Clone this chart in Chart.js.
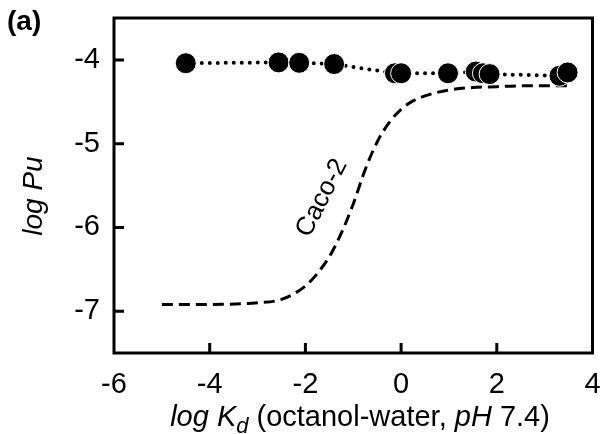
<!DOCTYPE html>
<html>
<head>
<meta charset="utf-8">
<script src="https://cdn.jsdelivr.net/npm/chart.js@4"></script>
<style>
    html, body { margin: 0; padding: 0; background: #fff; }
    canvas { display: block; }
</style>
</head>
<body>
<canvas id="chart" width="604" height="434"></canvas>
<script>
// measured compounds: log Kd vs log Pu
const kdValues = [-4.5, -2.56, -2.13, -1.40, -0.13, 0.0, 0.98, 1.56, 1.71, 1.85, 3.31, 3.48];
const puValues = [-4.04, -4.03, -4.035, -4.05, -4.16, -4.16, -4.16, -4.14, -4.16, -4.17, -4.19, -4.15];

// Caco-2 curve
const cacoKd = [-5, -4, -3, -2.5, -2, -1.75, -1.5, -1.25, -1, -0.75, -0.5, -0.25, 0, 0.25, 0.5, 1, 1.5, 2, 2.5, 3, 3.5];
const cacoPu = [-6.92, -6.92, -6.90, -6.86, -6.70, -6.55, -6.35, -6.07, -5.72, -5.31, -4.98, -4.75, -4.59, -4.49, -4.43, -4.36, -4.33, -4.32, -4.31, -4.31, -4.31];

const xTicks = [-6, -4, -2, 0, 2, 4];
const yTicks = [-7, -6, -5, -4];

const FONT = "'Liberation Sans', Arial, sans-serif";
const SIZE = 29;

const framePlugin = {
    id: 'frame',
    afterDraw(chart) {
        const ctx = chart.ctx;
        const a = chart.chartArea;
        const xs = chart.scales.x, ys = chart.scales.y;
        ctx.save();
        ctx.strokeStyle = '#000';
        ctx.lineWidth = 3;
        ctx.strokeRect(a.left, a.top, a.right - a.left, a.bottom - a.top);
        // inward tick marks
        ctx.beginPath();
        yTicks.forEach(v => {
            const y = ys.getPixelForValue(v);
            ctx.moveTo(a.left, y);
            ctx.lineTo(a.left + 10, y);
        });
        xTicks.slice(1, -1).forEach(v => {
            const x = xs.getPixelForValue(v);
            ctx.moveTo(x, a.bottom);
            ctx.lineTo(x, a.bottom - 10);
        });
        ctx.stroke();

        ctx.fillStyle = '#000';
        // panel letter
        ctx.font = 'bold 28px ' + FONT;
        ctx.textAlign = 'left';
        ctx.textBaseline = 'alphabetic';
        ctx.fillText('(a)', 7, 30);

        // y title
        ctx.save();
        ctx.translate(42, 196);
        ctx.rotate(-Math.PI / 2);
        ctx.font = 'italic 28px ' + FONT;
        ctx.textAlign = 'center';
        ctx.fillText('log Pu', 0, 0);
        ctx.restore();

        // x title with mixed styles
        const parts = [
            { t: 'log K', f: 'italic ' + SIZE + 'px ', dy: 0 },
            { t: 'd', f: 'italic 22px ', dy: 7 },
            { t: ' (octanol-water, ', f: SIZE + 'px ', dy: 0 },
            { t: 'pH', f: 'italic ' + SIZE + 'px ', dy: 0 },
            { t: ' 7.4)', f: SIZE + 'px ', dy: 0 }
        ];
        let w = 0;
        parts.forEach(p => { ctx.font = p.f + FONT; w += ctx.measureText(p.t).width; });
        let x = 360 - w / 2;
        parts.forEach(p => {
            ctx.font = p.f + FONT;
            ctx.fillText(p.t, x, 426 + p.dy);
            x += ctx.measureText(p.t).width;
        });

        // curve label
        ctx.save();
        ctx.translate(322, 198);
        ctx.rotate(-63 * Math.PI / 180);
        ctx.font = '26px ' + FONT;
        ctx.textAlign = 'center';
        ctx.textBaseline = 'middle';
        ctx.fillText('Caco-2', 0, 0);
        ctx.restore();
        ctx.restore();
    }
};

const ctx = document.getElementById('chart').getContext('2d');
new Chart(ctx, {
    type: 'scatter',
    data: {
        datasets: [
            {
                label: 'Caco-2',
                data: cacoKd.map((x, i) => ({ x, y: cacoPu[i] })),
                showLine: true,
                borderColor: '#000',
                borderWidth: 3,
                borderDash: [11, 6],
                pointRadius: 0,
                cubicInterpolationMode: 'monotone',
                order: 2
            },
            {
                label: 'measured',
                data: kdValues.map((x, i) => ({ x, y: puValues[i] })),
                showLine: true,
                borderColor: '#000',
                borderWidth: 4,
                borderDash: [0, 8],
                borderCapStyle: 'round',
                backgroundColor: '#000',
                pointBackgroundColor: '#000',
                pointBorderColor: '#fff',
                pointBorderWidth: 1,
                pointRadius: 10.5,
                order: 1
            }
        ]
    },
    options: {
        responsive: false,
        animation: false,
        devicePixelRatio: 1,
        layout: { padding: { top: 18, right: 9, left: 0, bottom: 0 } },
        plugins: { legend: { display: false }, tooltip: { enabled: false } },
        scales: {
            x: {
                type: 'linear',
                min: -6, max: 4,
                afterFit: s => { s.height = 81; s.paddingLeft = 0; s.paddingRight = 0; },
                afterBuildTicks: s => { s.ticks = xTicks.map(v => ({ value: v })); },
                grid: { display: false, drawTicks: false },
                border: { display: false },
                ticks: { color: '#000', font: { family: FONT, size: SIZE }, padding: 15, maxRotation: 0 }
            },
            y: {
                type: 'linear',
                min: -7.5, max: -3.5,
                afterFit: s => { s.width = 114; s.paddingTop = 0; s.paddingBottom = 0; },
                afterBuildTicks: s => { s.ticks = yTicks.map(v => ({ value: v })); },
                grid: { display: false, drawTicks: false },
                border: { display: false },
                ticks: { color: '#000', font: { family: FONT, size: SIZE }, padding: 14 }
            }
        }
    },
    plugins: [framePlugin]
});
</script>
</body>
</html>
